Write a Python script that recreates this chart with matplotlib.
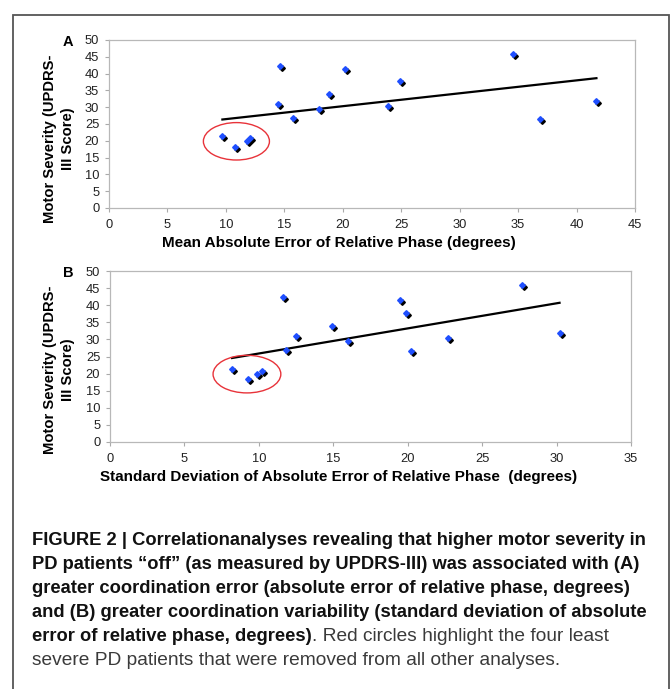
import matplotlib
matplotlib.use("Agg")
import matplotlib.pyplot as plt
from matplotlib.patches import Ellipse, Rectangle
from matplotlib.transforms import offset_copy
import numpy as np

# UPDRS-III score per patient, same patient order in both panels
severity = [21.4, 18.3, 19.9, 20.8, 42.3, 30.9, 26.8, 29.4, 34.0, 41.4, 30.4, 37.8, 45.8, 26.5, 31.9]
# panel A: mean absolute error of relative phase (degrees)
mean_abs_err = [9.7, 10.8, 11.8, 12.1, 14.6, 14.5, 15.7, 18.0, 18.8, 20.2, 23.9, 24.9, 34.6, 36.9, 41.7]
# panel B: SD of absolute error of relative phase (degrees)
sd_abs_err = [8.2, 9.3, 9.9, 10.2, 11.6, 12.5, 11.8, 16.0, 14.9, 19.5, 22.7, 19.9, 27.7, 20.2, 30.2]

y_ticks = list(range(0, 51, 5))
xticks_a = list(range(0, 46, 5))
xticks_b = list(range(0, 36, 5))

ylabel = "Motor Severity (UPDRS-\nIII Score)"
xlabel_a = "Mean Absolute Error of Relative Phase (degrees)"
xlabel_b = "Standard Deviation of Absolute Error of Relative Phase  (degrees)"

caption_bold = [
    "FIGURE 2 | Correlationanalyses revealing that higher motor severity in",
    "PD patients \u201coff\u201d (as measured by UPDRS-III) was associated with (A)",
    "greater coordination error (absolute error of relative phase, degrees)",
    "and (B) greater coordination variability (standard deviation of absolute",
    "error of relative phase, degrees)",
]
caption_regular = [
    ". Red circles highlight the four least",
    "severe PD patients that were removed from all other analyses.",
]

W, H = 671, 689
plt.rcParams['font.family'] = ['Liberation Sans', 'DejaVu Sans']

fig = plt.figure(figsize=(W / 100, H / 100), dpi=100)


def fx(x):
    return x / W


def fy(y):
    return 1 - y / H


def panel(left, top, right, bottom, xvals, xticks, letter, xlabel, xlabel_x, xlabel_y):
    rect = [fx(left), fy(bottom), fx(right) - fx(left), fy(top) - fy(bottom)]
    ax = fig.add_axes(rect)
    x = np.array(xvals)
    y = np.array(severity)

    # excel style markers: black shadow under a blue diamond
    shadow = offset_copy(ax.transData, fig=fig, x=2, y=-2, units='dots')
    ax.plot(x, y, 'D', ms=2.9, color='black', transform=shadow, zorder=3)
    ax.plot(x, y, 'D', ms=2.9, color='#1f4fff', zorder=4)

    # linear trend line over the data range
    m, b = np.polyfit(x, y, 1)
    xs = np.array([x.min(), x.max()])
    ax.plot(xs, m * xs + b, color='black', lw=1.6, zorder=2)

    ax.set_xlim(xticks[0], xticks[-1])
    ax.set_ylim(y_ticks[0], y_ticks[-1])
    ax.set_xticks(xticks)
    ax.set_yticks(y_ticks)

    # red ellipse round the four least severe patients
    low = np.argsort(y)[:4]
    ppx = (right - left) / (xticks[-1] - xticks[0])
    ppy = (bottom - top) / (y_ticks[-1] - y_ticks[0])
    cx = (x[low].min() + x[low].max()) / 2
    cy = (y[low].min() + y[low].max()) / 2
    w = (x[low].max() - x[low].min()) + 38 / ppx
    h = (y[low].max() - y[low].min()) + 27 / ppy
    ax.add_patch(Ellipse((cx, cy), w, h, fill=False, ec='#e8333a', lw=1.0, zorder=5))

    for s in ax.spines.values():
        s.set_color('#b8b8b8')
        s.set_linewidth(0.9)
    ax.tick_params(length=3, width=0.8, color='#aaaaaa', labelsize=9.3,
                   labelcolor='#222222', pad=4)
    ax.tick_params(axis='x', pad=5)

    fig.text(fx(68), fy(top + 2), letter, fontsize=10.5, fontweight='bold',
             ha='center', va='center')
    fig.text(fx(59), fy(top + 99), ylabel, rotation=90, fontsize=10.6,
             fontweight='bold', ha='center', va='center', multialignment='center',
             linespacing=1.35)
    fig.text(fx(xlabel_x), fy(xlabel_y), xlabel, fontsize=11, fontweight='bold',
             ha='center', va='center')
    return ax


panel(109, 40, 635, 208, mean_abs_err, xticks_a, "A", xlabel_a, 339, 243)
panel(110, 271, 631, 442, sd_abs_err, xticks_b, "B", xlabel_b, 339, 477)

# frame round the figure
fig.add_artist(Rectangle((fx(13), fy(720)), fx(669) - fx(13), fy(15) - fy(720),
                         transform=fig.transFigure, fill=False, ec='#555555', lw=1.3))

# caption
base = 545
step = 24
bold_texts = []
for i, line in enumerate(caption_bold):
    t = fig.text(fx(32), fy(base + i * step), line, fontsize=13.2, fontweight='bold',
                 color='#111111', va='baseline', ha='left')
    bold_texts.append(t)

fig.canvas.draw()
bb = bold_texts[-1].get_window_extent()
fig.text(bb.x1 / fig.bbox.width, fy(base + 4 * step), caption_regular[0], fontsize=13.8,
         color='#3a3a3a', va='baseline', ha='left')
fig.text(fx(32), fy(base + 5 * step), caption_regular[1], fontsize=13.8,
         color='#3a3a3a', va='baseline', ha='left')

fig.savefig("out.png", dpi=100)
